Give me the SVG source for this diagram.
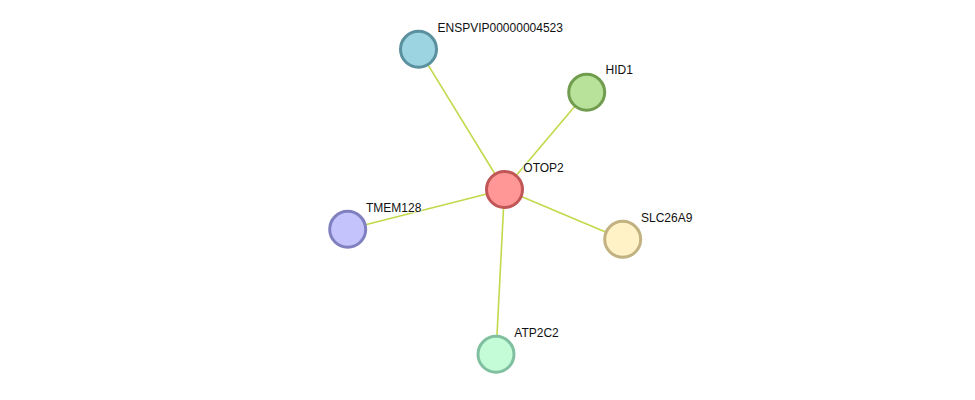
<svg xmlns="http://www.w3.org/2000/svg" width="975" height="400" viewBox="0 0 975 400">
<style>
.edge{stroke:#c3d84a;stroke-width:1.6;fill:none}
.node{stroke-width:3}
.lbl{font-family:"Liberation Sans",Arial,sans-serif;font-size:12px;fill:#111;paint-order:stroke;stroke:#fff;stroke-width:2px;stroke-opacity:0.6}
</style>
<rect width="975" height="400" fill="#fff"/>
<g id="edges">
<line class="edge" x1="504.5" y1="189.5" x2="418.5" y2="49.3"/>
<line class="edge" x1="504.5" y1="189.5" x2="586.7" y2="92.3"/>
<line class="edge" x1="504.5" y1="189.5" x2="347.7" y2="229.3"/>
<line class="edge" x1="504.5" y1="189.5" x2="622.7" y2="239.3"/>
<line class="edge" x1="504.5" y1="189.5" x2="496" y2="354.3"/>
</g>
<g id="ENSPVIP00000004523">
<circle class="node" cx="418.5" cy="49.3" r="18" fill="#9dd4e1" stroke="#5b909f"/>
<text class="lbl" x="437.5" y="32">ENSPVIP00000004523</text>
</g>
<g id="HID1">
<circle class="node" cx="586.7" cy="92.3" r="18" fill="#b8e19a" stroke="#6f9d4d"/>
<text class="lbl" x="605.5" y="74">HID1</text>
</g>
<g id="OTOP2">
<circle class="node" cx="504.5" cy="189.5" r="18" fill="#ff9797" stroke="#c05656"/>
<text class="lbl" x="523.3" y="172">OTOP2</text>
</g>
<g id="TMEM128">
<circle class="node" cx="347.7" cy="229.3" r="18" fill="#c5c3fc" stroke="#8080c0"/>
<text class="lbl" x="366" y="212">TMEM128</text>
</g>
<g id="SLC26A9">
<circle class="node" cx="622.7" cy="239.3" r="18" fill="#fff2c6" stroke="#c2b282"/>
<text class="lbl" x="641" y="222">SLC26A9</text>
</g>
<g id="ATP2C2">
<circle class="node" cx="496" cy="354.3" r="18" fill="#c4fcd8" stroke="#80c0a0"/>
<text class="lbl" x="514.3" y="337">ATP2C2</text>
</g>
</svg>
